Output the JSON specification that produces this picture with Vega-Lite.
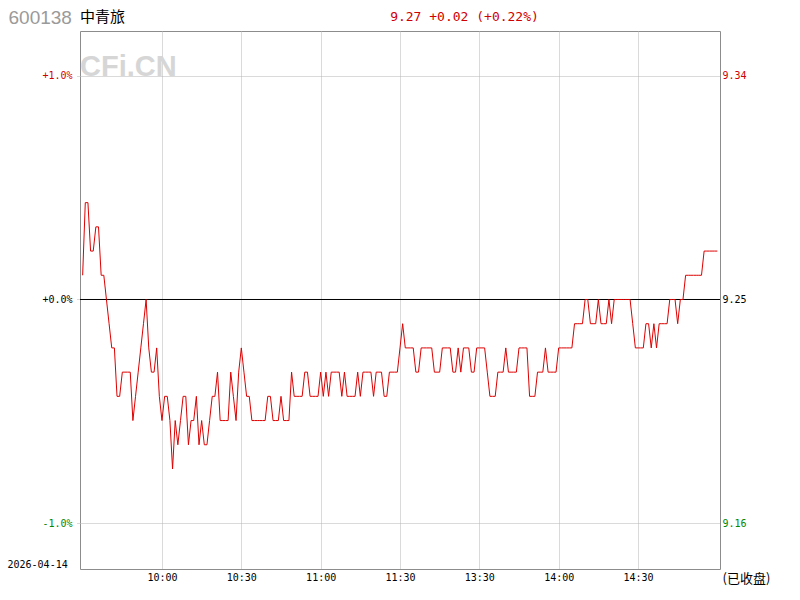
{
  "$schema": "https://vega.github.io/schema/vega-lite/v6.json",
  "width": 640,
  "height": 538,
  "autosize": {"type": "none"},
  "padding": {"left": 80, "top": 31, "right": 80, "bottom": 31},
  "background": "white",
  "config": {
    "view": {"stroke": "#8c8c8c", "strokeWidth": 1},
    "axis": {"labelFont": "DejaVu Sans Mono", "labelFontSize": 10, "titleFontWeight": "normal"}
  },
  "title": {
    "text": "中青旅",
    "subtitle": "\u00a0CFi.CN",
    "anchor": "start",
    "frame": "group",
    "orient": "top",
    "font": "Noto Sans CJK SC",
    "fontSize": 15,
    "fontWeight": "normal",
    "color": "#000000",
    "subtitleFont": "Liberation Sans",
    "subtitleFontSize": 29,
    "subtitleFontWeight": "bold",
    "subtitleColor": "#d6d6d6",
    "subtitlePadding": 28,
    "baseline": "top",
    "offset": 0,
    "dx": 0,
    "dy": 74
  },
  "datasets": {
    "series": [
      {"m":0,"p":9.26},{"m":1,"p":9.29},{"m":2,"p":9.29},{"m":3,"p":9.27},{"m":4,"p":9.27},{"m":5,"p":9.28},{"m":6,"p":9.28},{"m":7,"p":9.26},{"m":8,"p":9.26},{"m":9,"p":9.25},
      {"m":10,"p":9.24},{"m":11,"p":9.23},{"m":12,"p":9.23},{"m":13,"p":9.21},{"m":14,"p":9.21},{"m":15,"p":9.22},{"m":16,"p":9.22},{"m":17,"p":9.22},{"m":18,"p":9.22},{"m":19,"p":9.20},
      {"m":20,"p":9.21},{"m":21,"p":9.22},{"m":22,"p":9.23},{"m":23,"p":9.24},{"m":24,"p":9.25},{"m":25,"p":9.23},{"m":26,"p":9.22},{"m":27,"p":9.22},{"m":28,"p":9.23},{"m":29,"p":9.21},
      {"m":30,"p":9.20},{"m":31,"p":9.21},{"m":32,"p":9.21},{"m":33,"p":9.20},{"m":34,"p":9.18},{"m":35,"p":9.20},{"m":36,"p":9.19},{"m":37,"p":9.20},{"m":38,"p":9.21},{"m":39,"p":9.21},
      {"m":40,"p":9.19},{"m":41,"p":9.20},{"m":42,"p":9.20},{"m":43,"p":9.21},{"m":44,"p":9.19},{"m":45,"p":9.20},{"m":46,"p":9.19},{"m":47,"p":9.19},{"m":48,"p":9.20},{"m":49,"p":9.21},
      {"m":50,"p":9.21},{"m":51,"p":9.22},{"m":52,"p":9.20},{"m":53,"p":9.20},{"m":54,"p":9.20},{"m":55,"p":9.20},{"m":56,"p":9.22},{"m":57,"p":9.21},{"m":58,"p":9.20},{"m":59,"p":9.22},
      {"m":60,"p":9.23},{"m":61,"p":9.22},{"m":62,"p":9.21},{"m":63,"p":9.21},{"m":64,"p":9.20},{"m":65,"p":9.20},{"m":66,"p":9.20},{"m":67,"p":9.20},{"m":68,"p":9.20},{"m":69,"p":9.20},
      {"m":70,"p":9.21},{"m":71,"p":9.21},{"m":72,"p":9.20},{"m":73,"p":9.20},{"m":74,"p":9.20},{"m":75,"p":9.21},{"m":76,"p":9.20},{"m":77,"p":9.20},{"m":78,"p":9.20},{"m":79,"p":9.22},
      {"m":80,"p":9.21},{"m":81,"p":9.21},{"m":82,"p":9.21},{"m":83,"p":9.21},{"m":84,"p":9.22},{"m":85,"p":9.22},{"m":86,"p":9.21},{"m":87,"p":9.21},{"m":88,"p":9.21},{"m":89,"p":9.21},
      {"m":90,"p":9.22},{"m":91,"p":9.21},{"m":92,"p":9.22},{"m":93,"p":9.21},{"m":94,"p":9.22},{"m":95,"p":9.22},{"m":96,"p":9.22},{"m":97,"p":9.22},{"m":98,"p":9.21},{"m":99,"p":9.22},
      {"m":100,"p":9.21},{"m":101,"p":9.21},{"m":102,"p":9.21},{"m":103,"p":9.21},{"m":104,"p":9.22},{"m":105,"p":9.21},{"m":106,"p":9.22},{"m":107,"p":9.22},{"m":108,"p":9.22},{"m":109,"p":9.22},
      {"m":110,"p":9.21},{"m":111,"p":9.22},{"m":112,"p":9.22},{"m":113,"p":9.22},{"m":114,"p":9.21},{"m":115,"p":9.21},{"m":116,"p":9.22},{"m":117,"p":9.22},{"m":118,"p":9.22},{"m":119,"p":9.22},
      {"m":120,"p":9.23},{"m":121,"p":9.24},{"m":122,"p":9.23},{"m":123,"p":9.23},{"m":124,"p":9.23},{"m":125,"p":9.23},{"m":126,"p":9.22},{"m":127,"p":9.22},{"m":128,"p":9.23},{"m":129,"p":9.23},
      {"m":130,"p":9.23},{"m":131,"p":9.23},{"m":132,"p":9.23},{"m":133,"p":9.22},{"m":134,"p":9.22},{"m":135,"p":9.22},{"m":136,"p":9.23},{"m":137,"p":9.23},{"m":138,"p":9.23},{"m":139,"p":9.23},
      {"m":140,"p":9.22},{"m":141,"p":9.22},{"m":142,"p":9.23},{"m":143,"p":9.22},{"m":144,"p":9.23},{"m":145,"p":9.23},{"m":146,"p":9.23},{"m":147,"p":9.22},{"m":148,"p":9.22},{"m":149,"p":9.23},
      {"m":150,"p":9.23},{"m":151,"p":9.23},{"m":152,"p":9.23},{"m":153,"p":9.22},{"m":154,"p":9.21},{"m":155,"p":9.21},{"m":156,"p":9.21},{"m":157,"p":9.22},{"m":158,"p":9.22},{"m":159,"p":9.22},
      {"m":160,"p":9.23},{"m":161,"p":9.22},{"m":162,"p":9.22},{"m":163,"p":9.22},{"m":164,"p":9.22},{"m":165,"p":9.23},{"m":166,"p":9.23},{"m":167,"p":9.23},{"m":168,"p":9.23},{"m":169,"p":9.21},
      {"m":170,"p":9.21},{"m":171,"p":9.21},{"m":172,"p":9.22},{"m":173,"p":9.22},{"m":174,"p":9.22},{"m":175,"p":9.23},{"m":176,"p":9.22},{"m":177,"p":9.22},{"m":178,"p":9.22},{"m":179,"p":9.22},
      {"m":180,"p":9.23},{"m":181,"p":9.23},{"m":182,"p":9.23},{"m":183,"p":9.23},{"m":184,"p":9.23},{"m":185,"p":9.23},{"m":186,"p":9.24},{"m":187,"p":9.24},{"m":188,"p":9.24},{"m":189,"p":9.24},
      {"m":190,"p":9.25},{"m":191,"p":9.25},{"m":192,"p":9.24},{"m":193,"p":9.24},{"m":194,"p":9.24},{"m":195,"p":9.25},{"m":196,"p":9.24},{"m":197,"p":9.24},{"m":198,"p":9.24},{"m":199,"p":9.25},
      {"m":200,"p":9.24},{"m":201,"p":9.25},{"m":202,"p":9.25},{"m":203,"p":9.25},{"m":204,"p":9.25},{"m":205,"p":9.25},{"m":206,"p":9.25},{"m":207,"p":9.25},{"m":208,"p":9.24},{"m":209,"p":9.23},
      {"m":210,"p":9.23},{"m":211,"p":9.23},{"m":212,"p":9.23},{"m":213,"p":9.24},{"m":214,"p":9.24},{"m":215,"p":9.23},{"m":216,"p":9.24},{"m":217,"p":9.23},{"m":218,"p":9.24},{"m":219,"p":9.24},
      {"m":220,"p":9.24},{"m":221,"p":9.24},{"m":222,"p":9.25},{"m":223,"p":9.25},{"m":224,"p":9.25},{"m":225,"p":9.24},{"m":226,"p":9.25},{"m":227,"p":9.25},{"m":228,"p":9.26},{"m":229,"p":9.26},
      {"m":230,"p":9.26},{"m":231,"p":9.26},{"m":232,"p":9.26},{"m":233,"p":9.26},{"m":234,"p":9.26},{"m":235,"p":9.27},{"m":236,"p":9.27},{"m":237,"p":9.27},{"m":238,"p":9.27},{"m":239,"p":9.27},
      {"m":240,"p":9.27}
    ]
  },
  "resolve": {"axis": {"x": "independent", "y": "independent"}},
  "layer": [
    {
      "data": {"values": [{}]},
      "mark": {"type": "rule", "color": "#000000", "strokeWidth": 1},
      "encoding": {
        "x": {
          "datum": -1, "type": "quantitative",
          "scale": {"domain": [-1, 241], "nice": false, "zero": false},
          "axis": {
            "orient": "top", "labels": false, "ticks": false, "domain": false, "grid": false,
            "title": "9.27 +0.02 (+0.22%)", "titleFont": "DejaVu Sans Mono", "titleFontSize": 13,
            "titleColor": "#d00000", "titleX": 384, "titleY": -11, "titleAlign": "center", "titleBaseline": "alphabetic"
          }
        },
        "x2": {"datum": 241},
        "y": {
          "datum": 9.25, "type": "quantitative",
          "scale": {"domain": [9.13869, 9.36089], "nice": false, "zero": false},
          "axis": {
            "orient": "right", "values": [9.1575, 9.25, 9.3425],
            "labelExpr": "datum.value > 9.3 ? '9.34' : datum.value < 9.2 ? '9.16' : '9.25'",
            "labelColor": {"condition": [{"test": "datum.value > 9.3", "value": "#d00000"}, {"test": "datum.value < 9.2", "value": "#008800"}], "value": "#000000"},
            "ticks": false, "domain": false, "grid": false, "labelPadding": 2,
            "title": "(已收盘)", "titleAngle": 0, "titleX": 2, "titleY": 551, "titleAlign": "left", "titleBaseline": "alphabetic",
            "titleFont": "Noto Sans CJK SC", "titleFontSize": 13, "titleColor": "#000000"
          }
        }
      }
    },
    {
      "data": {"name": "series"},
      "mark": {"type": "line", "color": "#dd0000", "strokeWidth": 1, "interpolate": "linear"},
      "encoding": {
        "x": {
          "field": "m", "type": "quantitative",
          "scale": {"domain": [-1, 241], "nice": false, "zero": false},
          "axis": {
            "orient": "bottom", "values": [30, 60, 90, 120, 150, 180, 210],
            "labelExpr": "datum.value == 30 ? '10:00' : datum.value == 60 ? '10:30' : datum.value == 90 ? '11:00' : datum.value == 120 ? '11:30' : datum.value == 150 ? '13:30' : datum.value == 180 ? '14:00' : '14:30'",
            "grid": true, "gridColor": "#b4b4b4", "gridDash": [1, 1], "gridWidth": 1,
            "ticks": false, "domain": false, "labelPadding": 3, "labelBaseline": "top", "labelColor": "#000000",
            "labelFlush": false, "labelOverlap": false,
            "title": "2026-04-14", "titleX": -73, "titleY": -2, "titleAlign": "left", "titleBaseline": "alphabetic",
            "titleFont": "DejaVu Sans Mono", "titleFontSize": 10, "titleColor": "#000000"
          }
        },
        "y": {
          "field": "p", "type": "quantitative",
          "scale": {"domain": [9.13869, 9.36089], "nice": false, "zero": false},
          "axis": {
            "orient": "left", "values": [9.1575, 9.25, 9.3425],
            "labelExpr": "datum.value > 9.3 ? '+1.0%' : datum.value < 9.2 ? '-1.0%' : '+0.0%'",
            "labelColor": {"condition": [{"test": "datum.value > 9.3", "value": "#d00000"}, {"test": "datum.value < 9.2", "value": "#008800"}], "value": "#000000"},
            "grid": true, "gridColor": "#b4b4b4", "gridDash": [1, 1], "gridWidth": 1,
            "ticks": true, "tickSize": 4, "tickDash": [1, 1], "tickColor": "#b4b4b4", "domain": false, "labelPadding": 4,
            "title": "600138", "titleAngle": 0, "titleX": -72, "titleY": -8, "titleAlign": "left", "titleBaseline": "alphabetic",
            "titleFont": "Liberation Sans", "titleFontSize": 19, "titleColor": "#9a9a9a"
          }
        }
      }
    }
  ]
}
